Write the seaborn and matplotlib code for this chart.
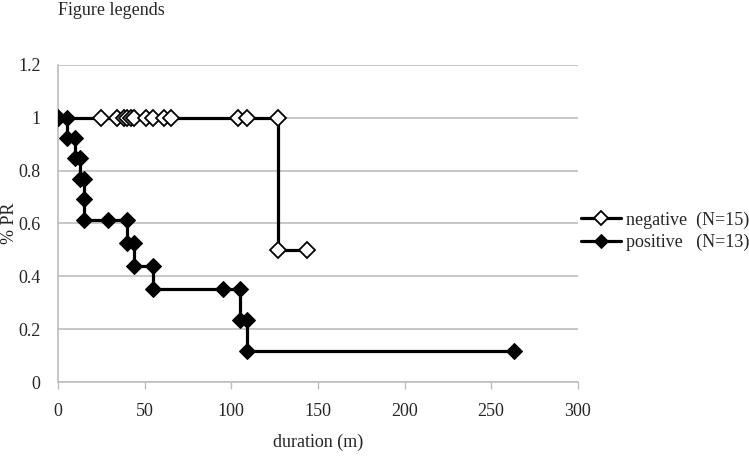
import pandas as pd
import matplotlib.pyplot as plt
import seaborn as sns

# step-curve vertices (duration in minutes, proportion)
neg_x = [0, 25, 34, 38, 40, 42, 44, 51, 55, 61, 65, 104, 109, 127, 127, 144]
neg_y = [1, 1, 1, 1, 1, 1, 1, 1, 1, 1, 1, 1, 1, 1, 0.5, 0.5]

pos_x = [0, 5, 5, 10, 10, 13, 13, 15, 15, 15, 29, 40, 40, 44, 44, 55, 55,
         95, 105, 105, 109, 109, 263]
pos_y = [1, 1, 0.923, 0.923, 0.846, 0.846, 0.769, 0.769, 0.692, 0.615, 0.615,
         0.615, 0.527, 0.527, 0.44, 0.44, 0.352, 0.352, 0.352, 0.234, 0.234,
         0.117, 0.117]

labels = ["negative  (N=15)", "positive   (N=13)"]

sns.set_style("white")
plt.rcParams["font.family"] = ["Liberation Serif", "DejaVu Serif"]

fig = plt.figure(figsize=(7.49, 4.69), dpi=100)
ax = fig.add_axes([0.0774, 0.1855, 0.694, 0.676])

neg = pd.DataFrame({"duration": neg_x, "pr": neg_y})
pos = pd.DataFrame({"duration": pos_x, "pr": pos_y})

sns.lineplot(data=neg, x="duration", y="pr", sort=False, estimator=None,
             color="black", lw=2.3, marker="D", markersize=8,
             markerfacecolor="white", markeredgecolor="black",
             markeredgewidth=1.3, label=labels[0], ax=ax, zorder=3)
sns.lineplot(data=pos, x="duration", y="pr", sort=False, estimator=None,
             color="black", lw=2.3, marker="D", markersize=8,
             markerfacecolor="black", markeredgecolor="black",
             label=labels[1], ax=ax, zorder=4)

ax.set_xlim(0, 300)
ax.set_ylim(0, 1.2)
ax.set_xticks([0, 50, 100, 150, 200, 250, 300])
ax.set_yticks([0, 0.2, 0.4, 0.6, 0.8, 1, 1.2])
ax.set_yticklabels(["0", "0.2", "0.4", "0.6", "0.8", "1", "1.2"])
ax.yaxis.grid(True, color="#bdbdbd", lw=1.2)
ax.xaxis.grid(False)
for side in ["top", "right"]:
    ax.spines[side].set_visible(False)
for side in ["left", "bottom"]:
    ax.spines[side].set_color("#bdbdbd")
    ax.spines[side].set_linewidth(1.2)
ax.tick_params(axis="x", bottom=True, length=5, width=1, color="#bdbdbd",
               labelsize=13, pad=10)
ax.tick_params(axis="y", left=False, labelsize=13, pad=9)

ax.set_xlabel("duration (m)", fontsize=13, labelpad=10)
ax.set_ylabel("% PR", fontsize=13)
ax.yaxis.set_label_coords(-0.077, 0.5)

ax.legend(loc="center left", bbox_to_anchor=(0.993, 0.475), frameon=False,
          fontsize=13, handlelength=2.2, handletextpad=0.25, labelspacing=0.3,
          borderaxespad=0, markerscale=0.9)

fig.text(0.077, 0.995, "Figure legends", fontsize=13, va="top", ha="left")

fig.savefig("out.png", dpi=100)
